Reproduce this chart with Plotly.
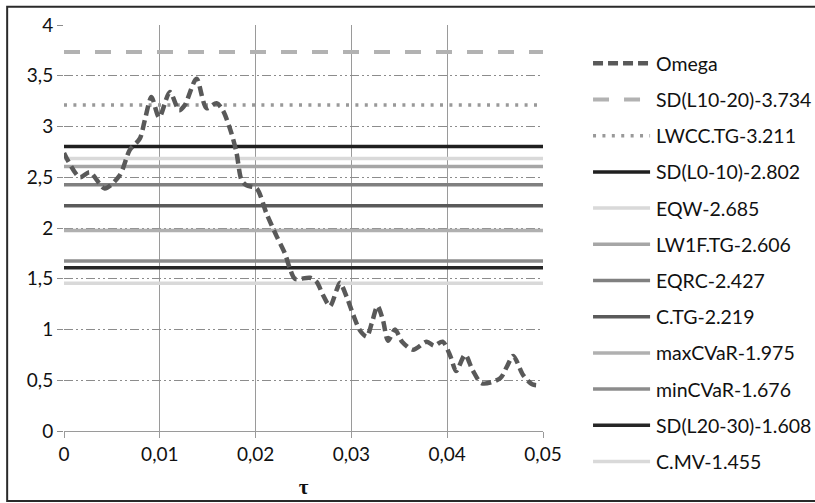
import plotly.graph_objects as go

# ---- data ----
tau = [0.0, 0.00164, 0.00269, 0.00425, 0.00582, 0.00687, 0.00791, 0.00843, 0.00913,
       0.00993, 0.01105, 0.01202, 0.01261, 0.01383, 0.01488, 0.01592, 0.01658, 0.01749,
       0.01801, 0.01854, 0.01906, 0.02010, 0.02115, 0.02219, 0.02306, 0.02358, 0.02411,
       0.02567, 0.02637, 0.02703, 0.02776, 0.02846, 0.02881, 0.02951, 0.03017, 0.03090,
       0.03160, 0.03212, 0.03273, 0.03330, 0.03382, 0.03455, 0.03529, 0.03644, 0.03787,
       0.03863, 0.03952, 0.04036, 0.04093, 0.04187, 0.04265, 0.04362, 0.04553, 0.04626,
       0.04689, 0.04793, 0.04887, 0.04950]
omega = [2.74, 2.50, 2.55, 2.39, 2.52, 2.77, 2.88, 3.06, 3.29,
         3.09, 3.34, 3.16, 3.21, 3.47, 3.18, 3.23, 3.16, 2.93,
         2.74, 2.47, 2.42, 2.39, 2.14, 1.92, 1.75, 1.60, 1.50,
         1.51, 1.47, 1.34, 1.23, 1.39, 1.46, 1.32, 1.15, 0.99,
         0.93, 1.06, 1.23, 1.09, 0.89, 1.00, 0.88, 0.80, 0.88,
         0.84, 0.88, 0.73, 0.59, 0.75, 0.60, 0.47, 0.52, 0.64,
         0.74, 0.55, 0.46, 0.45]

bench_names = ["SD(L10-20)", "LWCC.TG", "SD(L0-10)", "EQW", "LW1F.TG", "EQRC",
               "C.TG", "maxCVaR", "minCVaR", "SD(L20-30)", "C.MV"]
bench_values = [3.734, 3.211, 2.802, 2.685, 2.606, 2.427, 2.219, 1.975, 1.676, 1.608, 1.455]
tau_range = [0.0, 0.05]

x_ticks = [0, 0.01, 0.02, 0.03, 0.04, 0.05]
x_tick_labels = ["0", "0,01", "0,02", "0,03", "0,04", "0,05"]
y_ticks = [0, 0.5, 1, 1.5, 2, 2.5, 3, 3.5, 4]
y_tick_labels = ["0", "0,5", "1", "1,5", "2", "2,5", "3", "3,5", "4"]

# ---- styles ----
bench_colors = ["#b2b2b2", "#999999", "#1f1f1f", "#d9d9d9", "#a6a6a6", "#808080",
                "#5a5a5a", "#b0b0b0", "#8c8c8c", "#262626", "#d9d9d9"]
bench_dash = ["16px,15px", "3px,6.4px"] + ["solid"] * 9
bench_width = [4, 3.5] + [3.5] * 9
omega_color = "#595959"
omega_dash = "10px,5px"
FONT = "Lato"

fig = go.Figure()
for name, val, col, dsh, w in zip(bench_names, bench_values, bench_colors, bench_dash, bench_width):
    fig.add_trace(go.Scatter(x=tau_range, y=[val, val], mode="lines",
                             line=dict(color=col, width=w, dash=dsh),
                             name=f"{name}-{val}", showlegend=False, hoverinfo="skip"))
fig.add_trace(go.Scatter(x=tau, y=omega, mode="lines", name="Omega",
                         line=dict(color=omega_color, width=4.5, dash=omega_dash,
                                   shape="spline", smoothing=0.8),
                         showlegend=False))

# ---- manual legend ----
L, T, PW, PH = 64.3, 24.7, 478.7, 406.0
def px(xp):
    return (xp - L) / PW
def py(yp):
    return (T + PH - yp) / PH

legend_labels = ["Omega"] + [f"{n}-{v}" for n, v in zip(bench_names, bench_values)]
legend_colors = [omega_color] + bench_colors
legend_dash = [omega_dash] + bench_dash
legend_width = [4.5] + bench_width
shapes = []
annotations = []
for i, (lab, col, dsh, w) in enumerate(zip(legend_labels, legend_colors, legend_dash, legend_width)):
    yc = 63 + i * 36.2
    shapes.append(dict(type="line", xref="paper", yref="paper",
                       x0=px(593), x1=px(650), y0=py(yc), y1=py(yc),
                       line=dict(color=col, width=w, dash=dsh)))
    annotations.append(dict(text=lab, xref="paper", yref="paper", x=px(654), y=py(yc),
                            xanchor="left", yanchor="middle", showarrow=False,
                            font=dict(family=FONT, size=19.5, color="#111111")))

# outer border
shapes.append(dict(type="rect", xref="paper", yref="paper",
                   x0=px(7.5), x1=px(830), y0=py(500.7), y1=py(6.5),
                   line=dict(color="#2a2a2a", width=2), layer="below"))

fig.update_layout(
    width=815, height=503,
    margin=dict(l=L, r=815 - L - PW, t=T, b=503 - T - PH, autoexpand=False),
    paper_bgcolor="white", plot_bgcolor="white",
    shapes=shapes, annotations=annotations,
    font=dict(family=FONT, size=19, color="#111111"),
    xaxis=dict(range=[0, 0.05], tickvals=x_ticks, ticktext=x_tick_labels,
               tickangle=0, automargin=False,
               showgrid=True, gridcolor="#9a9a9a", gridwidth=1.3,
               showline=True, linecolor="#9a9a9a", linewidth=1.3,
               ticks="outside", ticklen=6, tickcolor="#9a9a9a",
               zeroline=False, tickfont=dict(family=FONT, size=19),
               title=dict(text="<b>τ</b>", font=dict(family="Liberation Serif", size=21),
                          standoff=15)),
    yaxis=dict(range=[0, 4], tickvals=y_ticks, ticktext=y_tick_labels,
               automargin=False,
               showgrid=True, gridcolor="#8c8c8c", gridwidth=1,
               griddash="9px,3px,2px,3px,2px,3px",
               showline=False, zeroline=False,
               ticks="outside", ticklen=6, tickcolor="#8c8c8c",
               tickfont=dict(family=FONT, size=19)),
)

fig.write_html("out.html", config={"displayModeBar": False},
               post_script="document.body.style.margin='0';document.body.style.overflow='hidden';")
